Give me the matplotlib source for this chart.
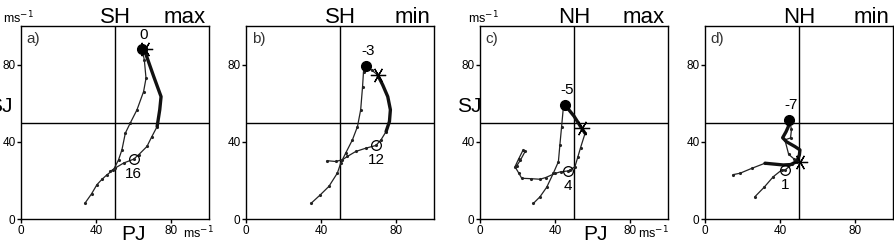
import matplotlib
matplotlib.use("Agg")
import matplotlib.pyplot as plt

plt.rcParams['font.family'] = ['Liberation Sans', 'DejaVu Sans']

# ---- data (ms-1) ----
panel_tags = ["a)", "b)", "c)", "d)"]
hemis = ["SH", "SH", "NH", "NH"]
kinds = ["max", "min", "max", "min"]
ticks = [0, 40, 80]

# panel a: SH max
a_thin1_x = [34.1, 37.5, 40.4, 43.0, 45.7, 49.2, 51.9, 53.7, 55.5, 58.1, 61.7, 65.2, 66.5, 65.6, 64.4]
a_thin1_y = [8.3, 13.0, 17.8, 20.5, 22.9, 25.5, 30.7, 35.9, 44.5, 49.7, 56.6, 66.0, 72.9, 82.4, 87.9]
a_thick_x = [65.5, 68.0, 70.6, 74.5, 73.8, 72.4]
a_thick_y = [88.0, 81.0, 73.8, 63.4, 56.6, 47.9]
a_thin2_x = [72.4, 69.5, 67.0, 62.6, 59.9, 54.6, 50.1, 47.5]
a_thin2_y = [47.9, 42.5, 37.6, 33.3, 31.0, 29.0, 26.4, 24.7]
a_full = (64.4, 87.9, "0")
a_star = (66.0, 88.0)
a_open = (59.9, 31.0, "16")

# panel b: SH min
b_thin1_x = [34.8, 39.5, 44.1, 48.6, 50.4, 53.0, 56.6, 59.3, 61.0, 62.0, 62.5, 63.75]
b_thin1_y = [8.3, 12.5, 16.9, 23.8, 29.0, 34.1, 41.0, 47.9, 56.6, 68.6, 76.4, 79.5]
b_thick_x = [70.0, 72.7, 75.4, 76.8, 76.3, 74.5]
b_thick_y = [74.7, 69.5, 63.4, 56.6, 50.5, 45.3]
b_thin2_x = [63.75, 67.0, 70.0]
b_thin2_y = [79.5, 77.0, 74.7]
b_thin3_x = [74.5, 71.8, 69.1, 63.75, 58.4, 53.9, 51.3, 47.7, 43.2]
b_thin3_y = [45.3, 41.0, 38.1, 36.7, 35.0, 32.4, 30.7, 29.8, 30.2]
b_full = (63.75, 79.5, "-3")
b_star = (70.0, 74.7)
b_open = (69.1, 38.1, "12")

# panel c: NH max
c_thin1_x = [28.4, 31.9, 35.5, 39.0, 41.7, 42.5, 43.4, 44.3, 45.2]
c_thin1_y = [8.1, 11.5, 16.5, 23.7, 29.7, 38.5, 47.8, 57.4, 59.1]
c_thick_x = [45.2, 50.0, 54.1, 55.9]
c_thick_y = [59.1, 53.3, 47.0, 44.4]
c_thin2_x = [55.9, 53.5, 52.0, 50.5, 47.9, 47.0, 43.0, 39.9, 35.0, 31.9, 27.0, 22.2, 20.5, 18.6, 20.5, 22.8, 24.0, 21.5, 19.5]
c_thin2_y = [44.4, 37.0, 32.0, 27.1, 25.4, 24.9, 24.5, 23.6, 21.5, 20.6, 20.9, 21.1, 24.0, 27.1, 31.0, 35.5, 35.0, 30.5, 27.5]
c_full = (45.2, 59.1, "-5")
c_star = (54.1, 47.0)
c_open = (47.0, 24.9, "4")

# panel d: NH min
d_thin1_x = [26.6, 31.5, 36.3, 40.8, 42.6, 46.5, 50.5]
d_thin1_y = [11.6, 16.5, 21.9, 25.4, 25.4, 28.5, 29.7]
d_thick_x = [44.8, 44.3, 43.1, 41.3, 43.4, 47.9, 50.5, 50.2, 48.8, 45.5, 41.6, 31.9]
d_thick_y = [51.3, 47.8, 45.2, 42.1, 40.0, 37.5, 35.8, 33.2, 29.7, 28.2, 28.0, 28.9]
d_thin2_x = [31.9, 25.0, 18.6, 15.0]
d_thin2_y = [28.9, 26.3, 23.7, 23.0]
d_thin3_x = [44.8, 46.0, 45.5, 42.5, 44.5, 47.5, 48.8]
d_thin3_y = [51.3, 46.5, 42.0, 41.0, 33.5, 31.0, 29.7]
d_full = (44.8, 51.3, "-7")
d_star = (50.5, 29.7)
d_open = (42.6, 25.4, "1")

thin_paths = [
    [(a_thin1_x, a_thin1_y), (a_thin2_x, a_thin2_y)],
    [(b_thin1_x, b_thin1_y), (b_thin2_x, b_thin2_y), (b_thin3_x, b_thin3_y)],
    [(c_thin1_x, c_thin1_y), (c_thin2_x, c_thin2_y)],
    [(d_thin1_x, d_thin1_y), (d_thin2_x, d_thin2_y), (d_thin3_x, d_thin3_y)],
]
thick_paths = [(a_thick_x, a_thick_y), (b_thick_x, b_thick_y),
               (c_thick_x, c_thick_y), (d_thick_x, d_thick_y)]
fulls = [a_full, b_full, c_full, d_full]
stars = [a_star, b_star, c_star, d_star]
opens = [a_open, b_open, c_open, d_open]

W, H = 894, 240
lefts = [21, 246, 480, 705]

fig = plt.figure(figsize=(W / 100, H / 100), dpi=100)

for i in range(4):
    ax = fig.add_axes([lefts[i] / W, 21 / H, 188 / W, 193 / H])
    ax.set_xlim(0, 100)
    ax.set_ylim(0, 100)
    ax.set_xticks(ticks)
    ax.set_yticks(ticks)
    ax.tick_params(direction="out", length=3, width=1, labelsize=8.5, pad=1,
                   top=False, right=False)
    for s in ax.spines.values():
        s.set_linewidth(1)
    ax.axvline(50, color="black", lw=1)
    ax.axhline(50, color="black", lw=1)

    for xs, ys in thin_paths[i]:
        ax.plot(xs, ys, color="#222222", lw=0.9, marker=".", ms=2.5)
    tx, ty = thick_paths[i]
    ax.plot(tx, ty, color="#111111", lw=2.4, solid_capstyle="round")

    fx, fy, flab = fulls[i]
    ax.plot(fx, fy, "o", color="black", ms=7)
    ax.text(fx + 1, fy + 4, flab, ha="center", va="bottom", fontsize=11)
    sx, sy = stars[i]
    ax.plot(sx, sy, marker=(6, 2, 90), color="black", ms=11, mew=0.9)
    ox, oy, olab = opens[i]
    ax.plot(ox, oy, "o", mfc="none", mec="black", ms=7, mew=0.9)
    ax.text(ox, oy - 4, olab, ha="center", va="top", fontsize=11)

    ax.text(3, 97, panel_tags[i], ha="left", va="top", fontsize=11, color="#333333")
    ax.text(50, 101.5, hemis[i], ha="center", va="baseline", fontsize=16)
    ax.text(98, 101.5, kinds[i], ha="right", va="baseline", fontsize=16)

    # unit and axis names only on a) and c)
    if i in (0, 2):
        ax.text(-9.6 if i == 0 else -6.4, 101.5, "ms$^{-1}$", ha="left", va="baseline", fontsize=9)
        ax.text(-4.3 if i == 0 else 1, 58.5, "SJ", ha="right", va="center", fontsize=15)
        ax.text(60 if i == 0 else 61.7, -3, "PJ", ha="center", va="top", fontsize=15)
        ax.text(86 if i == 0 else 84, -7, "ms$^{-1}$", ha="left", va="center", fontsize=9)

fig.savefig("out.png", dpi=100)
